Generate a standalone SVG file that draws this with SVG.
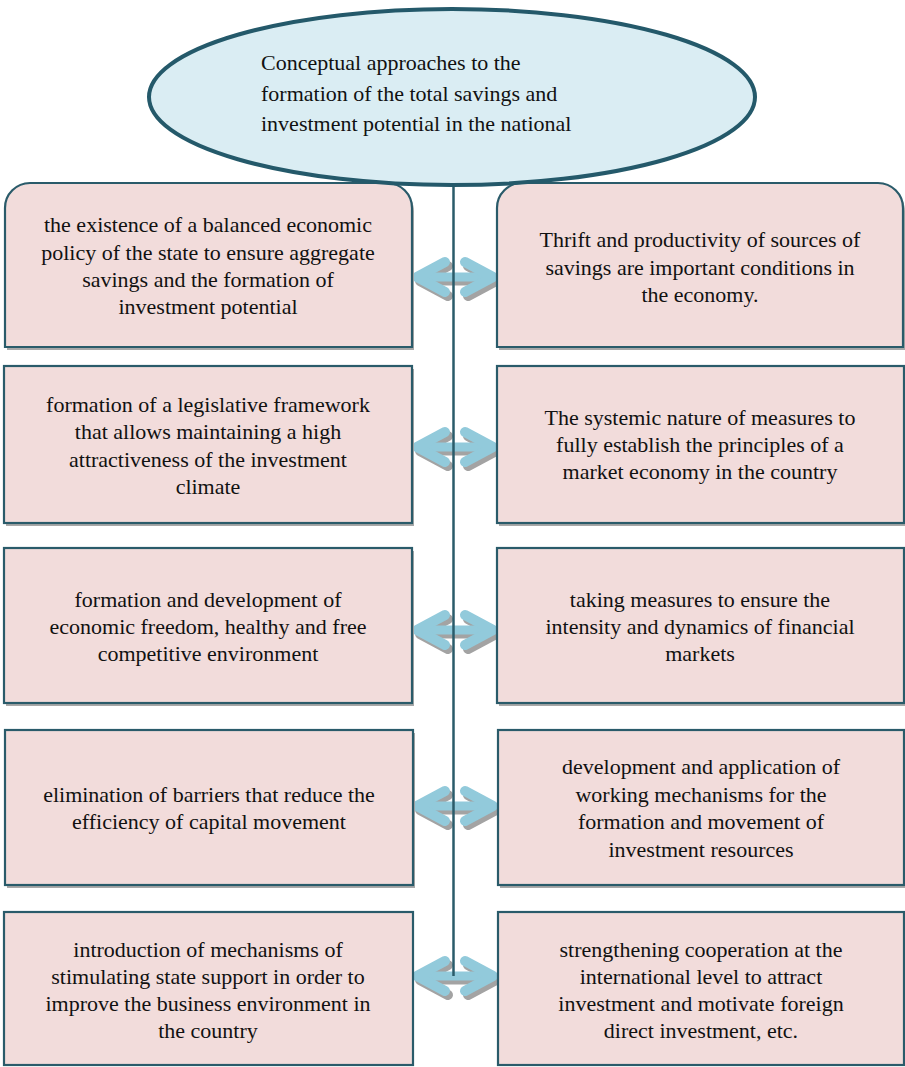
<svg xmlns="http://www.w3.org/2000/svg" xmlns:xlink="http://www.w3.org/1999/xlink" width="905" height="1067" viewBox="0 0 905 1067">
<style>
.box{fill:#f2dcdb;stroke:#2a5b6a;stroke-width:2.2}
.sh{fill:#a8a8a8}
.t{font-family:'Liberation Serif','DejaVu Serif Condensed','DejaVu Serif',serif;font-size:22px;fill:#111;text-anchor:middle}
.tl{font-family:'Liberation Serif','DejaVu Serif Condensed','DejaVu Serif',serif;font-size:22px;fill:#111}
</style>
<defs>
<g id="arrowShape">
<path d="M-38,0 H38" fill="none" stroke-width="9" stroke-linecap="butt"/>
<path d="M-10,-15 L-38,0 L-10,15" fill="none" stroke-width="10" stroke-linecap="round" stroke-linejoin="round"/>
<path d="M10,-15 L38,0 L10,15" fill="none" stroke-width="10" stroke-linecap="round" stroke-linejoin="round"/>
</g>
<g id="arrow">
<use xlink:href="#arrowShape" href="#arrowShape" transform="translate(3,4)" stroke="#a3a3a3"/>
<use xlink:href="#arrowShape" href="#arrowShape" stroke="#92cadb"/>
</g>
</defs>
<rect width="905" height="1067" fill="#ffffff"/>

<g id="connectors">
<use xlink:href="#arrow" href="#arrow" transform="translate(455,277)"/>
<use xlink:href="#arrow" href="#arrow" transform="translate(455,447)"/>
<use xlink:href="#arrow" href="#arrow" transform="translate(455,630)"/>
<use xlink:href="#arrow" href="#arrow" transform="translate(455,806)"/>
<use xlink:href="#arrow" href="#arrow" transform="translate(455,976)"/>
<line x1="453.5" y1="184" x2="453.5" y2="976" stroke="#2a5b6a" stroke-width="2.5"/>
</g>

<g id="box-l1">
<path class="sh" d="M7,350 V211 A25,25 0 0 1 32,186 H389 A25,25 0 0 1 414,211 V350 Z"/>
<path class="box" d="M5,347 V208 A25,25 0 0 1 30,183 H387 A25,25 0 0 1 412,208 V347 Z"/>
<text class="t" x="208" y="232">the existence of a balanced economic</text>
<text class="t" x="208" y="260">policy of the state to ensure aggregate</text>
<text class="t" x="208" y="287">savings and the formation of</text>
<text class="t" x="208" y="314">investment potential</text>
</g>
<g id="box-r1">
<path class="sh" d="M499,350 V211 A25,25 0 0 1 524,186 H880 A25,25 0 0 1 905,211 V350 Z"/>
<path class="box" d="M497,347 V208 A25,25 0 0 1 522,183 H878 A25,25 0 0 1 903,208 V347 Z"/>
<text class="t" x="700" y="247">Thrift and productivity of sources of</text>
<text class="t" x="700" y="275">savings are important conditions in</text>
<text class="t" x="700" y="302">the economy.</text>
</g>

<g id="box-l2">
<rect class="sh" x="6" y="369" width="408" height="157"/>
<rect class="box" x="4" y="366" width="408" height="157"/>
<text class="t" x="208" y="412">formation of a legislative framework</text>
<text class="t" x="208" y="439">that allows maintaining a high</text>
<text class="t" x="208" y="467">attractiveness of the investment</text>
<text class="t" x="208" y="494">climate</text>
</g>
<g id="box-r2">
<rect class="sh" x="499" y="369" width="408" height="157"/>
<rect class="box" x="497" y="366" width="407" height="157"/>
<text class="t" x="700" y="425">The systemic nature of measures to</text>
<text class="t" x="700" y="452">fully establish the principles of a</text>
<text class="t" x="700" y="479">market economy in the country</text>
</g>

<g id="box-l3">
<rect class="sh" x="6" y="551" width="408" height="155"/>
<rect class="box" x="4" y="548" width="408" height="155"/>
<text class="t" x="208" y="607">formation and development of</text>
<text class="t" x="208" y="634">economic freedom, healthy and free</text>
<text class="t" x="208" y="661">competitive environment</text>
</g>
<g id="box-r3">
<rect class="sh" x="499" y="551" width="408" height="155"/>
<rect class="box" x="497" y="548" width="407" height="155"/>
<text class="t" x="700" y="607">taking measures to ensure the</text>
<text class="t" x="700" y="634">intensity and dynamics of financial</text>
<text class="t" x="700" y="661">markets</text>
</g>

<g id="box-l4">
<rect class="sh" x="7" y="733" width="408" height="155"/>
<rect class="box" x="5" y="730" width="408" height="155"/>
<text class="t" x="209" y="802">elimination of barriers that reduce the</text>
<text class="t" x="209" y="829">efficiency of capital movement</text>
</g>
<g id="box-r4">
<rect class="sh" x="500" y="733" width="408" height="155"/>
<rect class="box" x="498" y="730" width="406" height="155"/>
<text class="t" x="701" y="774">development and application of</text>
<text class="t" x="701" y="802">working mechanisms for the</text>
<text class="t" x="701" y="829">formation and movement of</text>
<text class="t" x="701" y="857">investment resources</text>
</g>

<g id="box-l5">
<rect class="box" x="4" y="912" width="409" height="153"/>
<text class="t" x="208" y="957">introduction of mechanisms of</text>
<text class="t" x="208" y="984">stimulating state support in order to</text>
<text class="t" x="208" y="1011">improve the business environment in</text>
<text class="t" x="208" y="1038">the country</text>
</g>
<g id="box-r5">
<rect class="box" x="498" y="912" width="406" height="153"/>
<text class="t" x="701" y="957">strengthening cooperation at the</text>
<text class="t" x="701" y="984">international level to attract</text>
<text class="t" x="701" y="1011">investment and motivate foreign</text>
<text class="t" x="701" y="1038">direct investment, etc.</text>
</g>

<g id="node-top">
<ellipse cx="452" cy="97" rx="303" ry="88" fill="#daedf3" stroke="#24596a" stroke-width="4"/>
<text class="tl" x="261" y="70">Conceptual approaches to the</text>
<text class="tl" x="261" y="101">formation of the total savings and</text>
<text class="tl" x="261" y="131">investment potential in the national</text>
</g>
</svg>
